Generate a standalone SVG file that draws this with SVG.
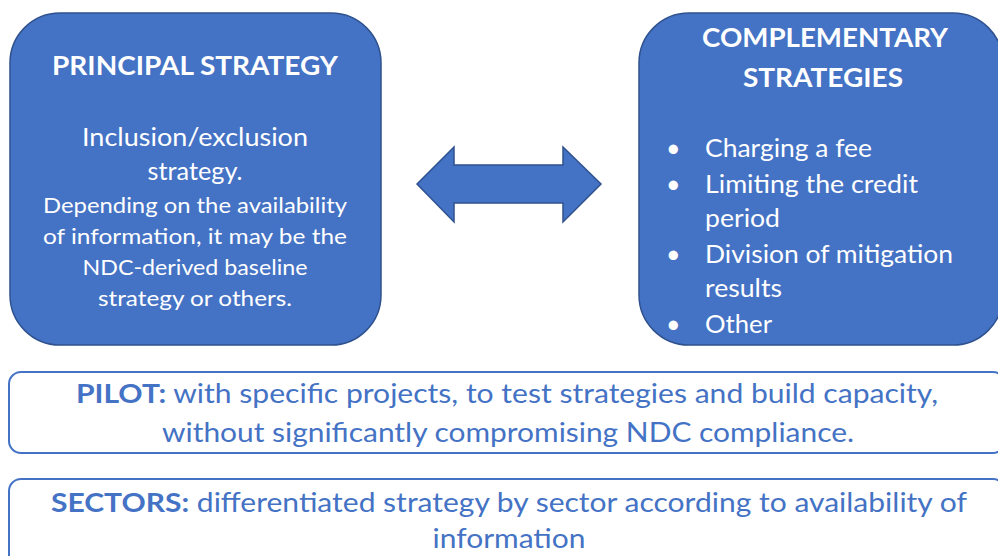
<svg xmlns="http://www.w3.org/2000/svg" width="998" height="556" viewBox="0 0 998 556">
<style>
.box{fill:#4472C4;stroke:#2F528F;stroke-width:1.5}
.obox{fill:#FFFFFF;stroke:#4472C4;stroke-width:2}
.t{font-family:Lato,"Open Sans","Liberation Sans",sans-serif;fill:#FFFFFF}
.h{font-weight:bold;font-size:27px}
.m{font-size:25px}
.s{font-size:21px}
.b{font-family:Lato,"Open Sans","Liberation Sans",sans-serif;fill:#4472C4;font-size:26px}
.bb{font-weight:bold}
</style>
<rect width="998" height="556" fill="#FFFFFF"/>
<g id="principal">
<rect class="box" x="10" y="13" width="371" height="332" rx="50" ry="50"/>
<text class="t h" x="195" y="75" text-anchor="middle" textLength="286" lengthAdjust="spacingAndGlyphs">PRINCIPAL STRATEGY</text>
<text class="t m" x="195" y="146" text-anchor="middle" textLength="226" lengthAdjust="spacingAndGlyphs">Inclusion/exclusion</text>
<text class="t m" x="195" y="180" text-anchor="middle" textLength="95" lengthAdjust="spacingAndGlyphs">strategy.</text>
<text class="t s" x="195" y="213" text-anchor="middle" textLength="304" lengthAdjust="spacingAndGlyphs">Depending on the availability</text>
<text class="t s" x="195" y="244" text-anchor="middle" textLength="304" lengthAdjust="spacingAndGlyphs">of information, it may be the</text>
<text class="t s" x="195" y="275" text-anchor="middle" textLength="225" lengthAdjust="spacingAndGlyphs">NDC-derived baseline</text>
<text class="t s" x="195" y="306" text-anchor="middle" textLength="194" lengthAdjust="spacingAndGlyphs">strategy or others.</text>
</g>
<g id="complementary">
<rect class="box" x="639" y="13" width="364" height="332" rx="50" ry="50"/>
<text class="t h" x="825" y="47" text-anchor="middle" textLength="246" lengthAdjust="spacingAndGlyphs">COMPLEMENTARY</text>
<text class="t h" x="823" y="87" text-anchor="middle" textLength="160" lengthAdjust="spacingAndGlyphs">STRATEGIES</text>
<g class="t m">
<text x="666" y="157">•</text>
<text x="705" y="157" textLength="167" lengthAdjust="spacingAndGlyphs">Charging a fee</text>
<text x="666" y="193">•</text>
<text x="705" y="193" textLength="213" lengthAdjust="spacingAndGlyphs">Limiting the credit</text>
<text x="705" y="227" textLength="75" lengthAdjust="spacingAndGlyphs">period</text>
<text x="666" y="263">•</text>
<text x="705" y="263" textLength="248" lengthAdjust="spacingAndGlyphs">Division of mitigation</text>
<text x="705" y="297" textLength="77" lengthAdjust="spacingAndGlyphs">results</text>
<text x="666" y="333">•</text>
<text x="705" y="333" textLength="67" lengthAdjust="spacingAndGlyphs">Other</text>
</g>
</g>
<g id="connectors">
<polygon class="box" stroke-width="1" points="417,184 454,147 454,165 563,165 563,147 601,184 563,222 563,203 454,203 454,222"/>
</g>
<g id="pilot">
<rect class="obox" x="9" y="372" width="996" height="81" rx="12" ry="12"/>
<text class="b" x="507" y="403" text-anchor="middle" textLength="862" lengthAdjust="spacingAndGlyphs"><tspan class="bb">PILOT:</tspan> with specific projects, to test strategies and build capacity,</text>
<text class="b" x="508" y="442" text-anchor="middle" textLength="692" lengthAdjust="spacingAndGlyphs">without significantly compromising NDC compliance.</text>
</g>
<g id="sectors">
<rect class="obox" x="9" y="479" width="996" height="90" rx="12" ry="12"/>
<text class="b" x="509" y="512" text-anchor="middle" textLength="916" lengthAdjust="spacingAndGlyphs"><tspan class="bb">SECTORS:</tspan> differentiated strategy by sector according to availability of</text>
<text class="b" x="509" y="548" text-anchor="middle" textLength="153" lengthAdjust="spacingAndGlyphs">information</text>
</g>
</svg>
